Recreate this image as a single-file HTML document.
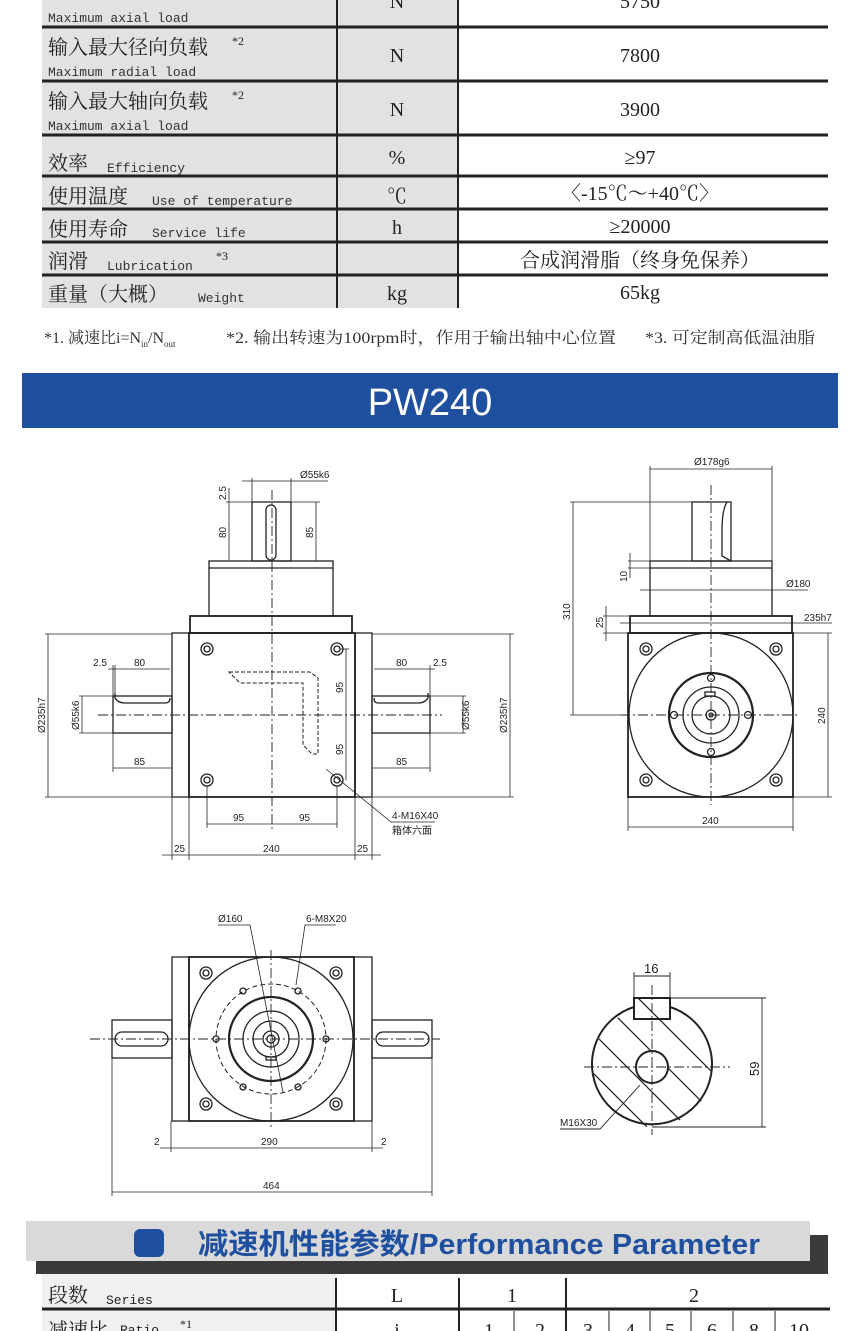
<!DOCTYPE html>
<html><head><meta charset="utf-8"><style>
html,body{margin:0;padding:0;background:#fff}
svg{display:block}
.cn{font-family:"Liberation Serif","Noto Serif CJK SC","Noto Sans CJK SC",serif}
.en{font-family:"Liberation Mono",monospace}
.d{font-family:"Liberation Sans","Noto Sans CJK SC",sans-serif;font-size:10px;fill:#222}
</style></head><body>
<svg width="860" height="1331" viewBox="0 0 860 1331" xmlns="http://www.w3.org/2000/svg">
<!-- top table -->
<rect x="42" y="0" width="416" height="308" fill="#e2e2e2"/>
<rect x="458" y="0" width="370" height="308" fill="#fff"/>
<g stroke="#222" stroke-width="3">
<line x1="42" y1="27" x2="828" y2="27"/><line x1="42" y1="81" x2="828" y2="81"/>
<line x1="42" y1="135" x2="828" y2="135"/><line x1="42" y1="176" x2="828" y2="176"/>
<line x1="42" y1="209" x2="828" y2="209"/><line x1="42" y1="242" x2="828" y2="242"/>
<line x1="42" y1="275" x2="828" y2="275"/>
</g>
<g stroke="#222" stroke-width="2"><line x1="337" y1="0" x2="337" y2="308"/><line x1="458" y1="0" x2="458" y2="308"/></g>
<g class="cn" fill="#222" font-size="20">
<text x="48" y="-2">输出最大轴向负载</text>
<text x="48" y="54">输入最大径向负载</text><text x="232" y="45" font-size="12">*2</text>
<text x="48" y="108">输入最大轴向负载</text><text x="232" y="99" font-size="12">*2</text>
<text x="48" y="170">效率</text>
<text x="48" y="203">使用温度</text>
<text x="48" y="236">使用寿命</text>
<text x="48" y="268">润滑</text><text x="216" y="260" font-size="12">*3</text>
<text x="48" y="301">重量（大概）</text>
</g>
<g class="en" fill="#333" font-size="13">
<text x="48" y="22">Maximum axial load</text>
<text x="48" y="76">Maximum radial load</text>
<text x="48" y="130">Maximum axial load</text>
<text x="107" y="172">Efficiency</text>
<text x="152" y="205">Use of temperature</text>
<text x="152" y="237">Service life</text>
<text x="107" y="270">Lubrication</text>
<text x="198" y="302">Weight</text>
</g>
<g class="cn" fill="#222" font-size="20" text-anchor="middle">
<text x="397" y="8">N</text><text x="640" y="8">5750</text>
<text x="397" y="62">N</text><text x="640" y="62">7800</text>
<text x="397" y="116">N</text><text x="640" y="116">3900</text>
<text x="397" y="164">%</text><text x="640" y="164">≥97</text>
<text x="397" y="203">℃</text><text x="640" y="200">〈-15℃～+40℃〉</text>
<text x="397" y="234">h</text><text x="640" y="233">≥20000</text>
<text x="640" y="267">合成润滑脂（终身免保养）</text>
<text x="397" y="300">kg</text><text x="640" y="299">65kg</text>
</g>
<g class="cn" font-size="16" fill="#333">
<text x="44" y="343">*1. 减速比i=N<tspan font-size="9" dy="4">in</tspan><tspan dy="-4">/N</tspan><tspan font-size="9" dy="4">out</tspan></text>
<text x="226" y="343" textLength="390" lengthAdjust="spacingAndGlyphs">*2. 输出转速为100rpm时，作用于输出轴中心位置</text>
<text x="645" y="343" textLength="170" lengthAdjust="spacingAndGlyphs">*3. 可定制高低温油脂</text>
</g>
<!-- banner -->
<rect x="22" y="373" width="816" height="55" fill="#1f4f9f"/>
<text x="430" y="415" text-anchor="middle" font-family="Liberation Sans,sans-serif" font-size="38" fill="#fff">PW240</text>

<g fill="none" stroke="#222" stroke-width="1.3">
<!-- drawing 1 -->
<rect x="189" y="633" width="166" height="164" stroke-width="1.8"/>
<rect x="172" y="633" width="17" height="164"/><rect x="355" y="633" width="17" height="164"/>
<rect x="190" y="616" width="162" height="17" stroke-width="1.8"/>
<rect x="209" y="561" width="124" height="55"/><line x1="209" y1="568" x2="333" y2="568"/>
<rect x="252" y="502" width="39" height="59"/>
<rect x="266" y="505" width="10" height="55" rx="5"/>
<rect x="113" y="696" width="59" height="37"/><path d="M115 693 L115 698 Q118 703 125 703 L165 703 Q170 703 170 698"/>
<rect x="372" y="696" width="58" height="37"/><path d="M428 693 L428 698 Q425 703 418 703 L378 703 Q374 703 374 698"/>
<circle cx="207" cy="649" r="6"/><circle cx="207" cy="649" r="3"/>
<circle cx="337" cy="649" r="6"/><circle cx="337" cy="649" r="3"/>
<circle cx="207" cy="780" r="6"/><circle cx="207" cy="780" r="3"/>
<circle cx="337" cy="780" r="6"/><circle cx="337" cy="780" r="3"/>
<path d="M229 672 L310 672 L318 678 L318 754 L312 754 L303 745 L303 683 L240 683 Z" stroke-dasharray="4 2" stroke-width="1"/>
<g stroke-dasharray="10 3 2 3" stroke-width="0.9"><line x1="272" y1="490" x2="272" y2="830"/><line x1="98" y1="715" x2="442" y2="715"/></g>
<g stroke-width="0.8">
<line x1="242" y1="481" x2="300" y2="481"/><line x1="300" y1="481" x2="328" y2="481"/>
<line x1="252" y1="478" x2="252" y2="502"/><line x1="291" y1="478" x2="291" y2="502"/>
<line x1="229" y1="488" x2="229" y2="560"/><line x1="226" y1="502" x2="320" y2="502"/><line x1="316" y1="502" x2="316" y2="561"/>
<line x1="48" y1="634" x2="48" y2="797"/><line x1="45" y1="634" x2="172" y2="634"/><line x1="45" y1="797" x2="172" y2="797"/>
<line x1="510" y1="634" x2="510" y2="797"/><line x1="372" y1="634" x2="514" y2="634"/><line x1="372" y1="797" x2="514" y2="797"/>
<line x1="82" y1="696" x2="82" y2="733"/><line x1="79" y1="696" x2="113" y2="696"/><line x1="79" y1="733" x2="113" y2="733"/>
<line x1="463" y1="696" x2="463" y2="733"/><line x1="430" y1="696" x2="466" y2="696"/><line x1="430" y1="733" x2="466" y2="733"/>
<line x1="108" y1="669" x2="170" y2="669"/><line x1="113" y1="665" x2="113" y2="696"/><line x1="115" y1="665" x2="115" y2="693"/>
<line x1="374" y1="669" x2="435" y2="669"/><line x1="430" y1="665" x2="430" y2="696"/>
<line x1="113" y1="768" x2="172" y2="768"/><line x1="113" y1="733" x2="113" y2="772"/>
<line x1="372" y1="768" x2="430" y2="768"/><line x1="430" y1="733" x2="430" y2="772"/>
<line x1="346" y1="649" x2="346" y2="780"/><line x1="340" y1="649" x2="349" y2="649"/>
<line x1="207" y1="786" x2="207" y2="828"/><line x1="337" y1="786" x2="337" y2="828"/><line x1="207" y1="824" x2="337" y2="824"/>
<line x1="162" y1="855" x2="381" y2="855"/><line x1="172" y1="797" x2="172" y2="860"/><line x1="189" y1="797" x2="189" y2="860"/><line x1="355" y1="797" x2="355" y2="860"/><line x1="372" y1="797" x2="372" y2="860"/>
<polyline points="326,769 391,822 435,822"/>
</g>
</g>
<g class="d">
<text x="300" y="478">Ø55k6</text>
<text transform="translate(226,500) rotate(-90)">2.5</text>
<text transform="translate(226,538) rotate(-90)">80</text>
<text transform="translate(313,538) rotate(-90)">85</text>
<text x="93" y="666">2.5</text><text x="134" y="666">80</text>
<text x="396" y="666">80</text><text x="433" y="666">2.5</text>
<text x="134" y="765">85</text><text x="396" y="765">85</text>
<text transform="translate(79,730) rotate(-90)">Ø55k6</text>
<text transform="translate(469,730) rotate(-90)">Ø55k6</text>
<text transform="translate(45,733) rotate(-90)">Ø235h7</text>
<text transform="translate(507,733) rotate(-90)">Ø235h7</text>
<text transform="translate(343,693) rotate(-90)">95</text>
<text transform="translate(343,755) rotate(-90)">95</text>
<text x="233" y="821">95</text><text x="299" y="821">95</text>
<text x="174" y="852">25</text><text x="263" y="852">240</text><text x="357" y="852">25</text>
<text x="392" y="819">4-M16X40</text><text x="392" y="834">箱体六面</text>
</g>

<!-- drawing 2 -->
<g fill="none" stroke="#222" stroke-width="1.3">
<rect x="628" y="633" width="165" height="164" stroke-width="1.8"/>
<rect x="630" y="616" width="162" height="17" stroke-width="1.8"/>
<rect x="650" y="561" width="122" height="55"/><line x1="650" y1="568" x2="772" y2="568"/>
<rect x="692" y="502" width="39" height="59"/><path d="M727 502 Q722 510 722 530 L722 556 L731 561"/>
<circle cx="711" cy="715" r="82"/>
<circle cx="711" cy="715" r="42" stroke-width="2.2"/>
<circle cx="711" cy="715" r="28"/><circle cx="711" cy="715" r="19"/>
<circle cx="711" cy="715" r="5"/><circle cx="711" cy="715" r="2"/>
<rect x="705" y="692" width="10" height="4"/>
<circle cx="711" cy="678" r="3.5"/><circle cx="711" cy="752" r="3.5"/><circle cx="674" cy="715" r="3.5"/><circle cx="748" cy="715" r="3.5"/>
<circle cx="646" cy="649" r="6"/><circle cx="646" cy="649" r="3"/>
<circle cx="776" cy="649" r="6"/><circle cx="776" cy="649" r="3"/>
<circle cx="646" cy="780" r="6"/><circle cx="646" cy="780" r="3"/>
<circle cx="776" cy="780" r="6"/><circle cx="776" cy="780" r="3"/>
<g stroke-dasharray="10 3 2 3" stroke-width="0.9"><line x1="711" y1="485" x2="711" y2="805"/><line x1="620" y1="715" x2="800" y2="715"/></g>
<g stroke-width="0.8">
<line x1="650" y1="469" x2="772" y2="469"/><line x1="650" y1="466" x2="650" y2="616"/><line x1="772" y1="466" x2="772" y2="616"/>
<line x1="573" y1="502" x2="573" y2="715"/><line x1="570" y1="502" x2="730" y2="502"/><line x1="570" y1="715" x2="628" y2="715"/>
<line x1="630" y1="553" x2="630" y2="578"/><line x1="628" y1="561" x2="650" y2="561"/><line x1="628" y1="568" x2="650" y2="568"/>
<line x1="640" y1="590" x2="808" y2="590"/>
<line x1="606" y1="606" x2="606" y2="641"/><line x1="603" y1="616" x2="630" y2="616"/><line x1="603" y1="633" x2="628" y2="633"/>
<line x1="620" y1="623" x2="832" y2="623"/>
<line x1="828" y1="633" x2="828" y2="797"/><line x1="793" y1="633" x2="832" y2="633"/><line x1="793" y1="797" x2="832" y2="797"/>
<line x1="628" y1="827" x2="793" y2="827"/><line x1="628" y1="797" x2="628" y2="831"/><line x1="793" y1="797" x2="793" y2="831"/>
</g>
</g>
<g class="d">
<text x="694" y="465">Ø178g6</text>
<text transform="translate(570,620) rotate(-90)">310</text>
<text transform="translate(627,582) rotate(-90)">10</text>
<text x="786" y="587">Ø180</text>
<text transform="translate(603,628) rotate(-90)">25</text>
<text x="804" y="621">235h7</text>
<text transform="translate(825,724) rotate(-90)">240</text>
<text x="702" y="824">240</text>
</g>

<!-- drawing 3 -->
<g fill="none" stroke="#222" stroke-width="1.3">
<rect x="189" y="957" width="165" height="164" stroke-width="1.8"/>
<rect x="172" y="957" width="17" height="164"/><rect x="354" y="957" width="18" height="164"/>
<rect x="112" y="1020" width="60" height="38"/><rect x="115" y="1032" width="53" height="14" rx="7"/>
<rect x="372" y="1020" width="60" height="38"/><rect x="376" y="1032" width="53" height="14" rx="7"/>
<circle cx="271" cy="1039" r="82"/>
<circle cx="271" cy="1039" r="55" stroke-dasharray="5 3" stroke-width="1"/>
<circle cx="271" cy="1039" r="42" stroke-width="2.2"/>
<circle cx="271" cy="1039" r="28"/><circle cx="271" cy="1039" r="18"/>
<circle cx="271" cy="1039" r="8"/><circle cx="271" cy="1039" r="4"/>
<rect x="266" y="1057" width="10" height="3"/>
<circle cx="243" cy="991" r="3"/><circle cx="298" cy="991" r="3"/><circle cx="216" cy="1039" r="3"/><circle cx="326" cy="1039" r="3"/><circle cx="243" cy="1087" r="3"/><circle cx="298" cy="1087" r="3"/>
<circle cx="206" cy="973" r="6"/><circle cx="206" cy="973" r="3"/>
<circle cx="336" cy="973" r="6"/><circle cx="336" cy="973" r="3"/>
<circle cx="206" cy="1104" r="6"/><circle cx="206" cy="1104" r="3"/>
<circle cx="336" cy="1104" r="6"/><circle cx="336" cy="1104" r="3"/>
<g stroke-dasharray="10 3 2 3" stroke-width="0.9"><line x1="271" y1="950" x2="271" y2="1128"/><line x1="90" y1="1039" x2="440" y2="1039"/></g>
<g stroke-width="0.8">
<polyline points="218,925 250,925 283,1092"/><polyline points="336,925 305,925 296,985"/>
<line x1="160" y1="1148" x2="383" y2="1148"/><line x1="171" y1="1121" x2="171" y2="1152"/><line x1="372" y1="1121" x2="372" y2="1152"/>
<line x1="112" y1="1192" x2="432" y2="1192"/><line x1="112" y1="1058" x2="112" y2="1196"/><line x1="432" y1="1058" x2="432" y2="1196"/>
</g>
</g>
<g class="d">
<text x="218" y="922">Ø160</text><text x="306" y="922">6-M8X20</text>
<text x="154" y="1145">2</text><text x="261" y="1145">290</text><text x="381" y="1145">2</text>
<text x="263" y="1189">464</text>
</g>

<!-- drawing 4 -->
<defs><clipPath id="sec"><circle cx="652" cy="1067" r="60"/><rect x="634" y="998" width="36" height="21"/></clipPath></defs>
<g clip-path="url(#sec)" stroke="#222" stroke-width="1.3">
<line x1="560" y1="1000" x2="700" y2="1140"/><line x1="580" y1="980" x2="720" y2="1120"/><line x1="600" y1="960" x2="740" y2="1100"/>
<line x1="620" y1="940" x2="760" y2="1080"/><line x1="540" y1="1020" x2="680" y2="1160"/>
<line x1="640" y1="920" x2="780" y2="1060"/>
</g>
<circle cx="652" cy="1067" r="16" fill="#fff" stroke="#222" stroke-width="2"/>
<g fill="none" stroke="#222" stroke-width="2">
<path d="M634 1007 A60 60 0 1 0 670 1007"/><rect x="634" y="998" width="36" height="21"/>
</g>
<g fill="none" stroke="#222" stroke-width="0.9">
<line x1="652" y1="985" x2="652" y2="1135" stroke-dasharray="10 3 2 3"/><line x1="584" y1="1067" x2="730" y2="1067" stroke-dasharray="10 3 2 3"/>
<line x1="634" y1="976" x2="670" y2="976"/><line x1="634" y1="972" x2="634" y2="998"/><line x1="670" y1="972" x2="670" y2="998"/>
<line x1="762" y1="998" x2="762" y2="1127"/><line x1="670" y1="998" x2="766" y2="998"/><line x1="652" y1="1127" x2="766" y2="1127"/>
<polyline points="560,1129 600,1129 640,1085"/>
</g>
<text x="644" y="973" font-family="Liberation Sans,sans-serif" font-size="13" fill="#222">16</text>
<text transform="translate(759,1076) rotate(-90)" font-family="Liberation Sans,sans-serif" font-size="13" fill="#222">59</text>
<text x="560" y="1126" class="d" font-size="11">M16X30</text>

<!-- bottom header -->
<rect x="36" y="1235" width="792" height="39" fill="#3b3a3a"/>
<rect x="26" y="1221" width="784" height="40" fill="#d9d9d9"/>
<rect x="134" y="1229" width="30" height="28" rx="6" fill="#1f4f9f"/>
<text x="198" y="1254" textLength="562" lengthAdjust="spacingAndGlyphs" font-family="Liberation Sans,'Noto Sans CJK SC',sans-serif" font-size="29" font-weight="bold" fill="#1f4f9f">减速机性能参数/Performance Parameter</text>
<rect x="42" y="1274" width="786" height="57" fill="#fff"/>
<rect x="42" y="1274" width="295" height="57" fill="#f0f0f0"/>
<g stroke="#222" stroke-width="2">
<line x1="42" y1="1309" x2="830" y2="1309" stroke-width="3"/>
<line x1="336" y1="1278" x2="336" y2="1331"/><line x1="459" y1="1278" x2="459" y2="1331"/><line x1="566" y1="1278" x2="566" y2="1331"/>
<line x1="514" y1="1311" x2="514" y2="1331" stroke-width="1"/><line x1="609" y1="1311" x2="609" y2="1331" stroke-width="1"/>
<line x1="650" y1="1311" x2="650" y2="1331" stroke-width="1"/><line x1="691" y1="1311" x2="691" y2="1331" stroke-width="1"/>
<line x1="733" y1="1311" x2="733" y2="1331" stroke-width="1"/><line x1="775" y1="1311" x2="775" y2="1331" stroke-width="1"/>
</g>
<g class="cn" fill="#222" font-size="20">
<text x="48" y="1302">段数</text><text x="106" y="1304" class="en" font-size="13">Series</text>
<text x="48" y="1337">减速比</text><text x="120" y="1334" class="en" font-size="13">Ratio</text><text x="180" y="1328" font-size="12">*1</text>
</g>
<g class="cn" fill="#222" font-size="20" text-anchor="middle">
<text x="397" y="1302">L</text><text x="512" y="1302">1</text><text x="694" y="1302">2</text>
<text x="397" y="1337">i</text><text x="489" y="1337">1</text><text x="540" y="1337">2</text><text x="588" y="1337">3</text><text x="630" y="1337">4</text><text x="670" y="1337">5</text><text x="712" y="1337">6</text><text x="754" y="1337">8</text><text x="799" y="1337">10</text>
</g>
</svg>
</body></html>
